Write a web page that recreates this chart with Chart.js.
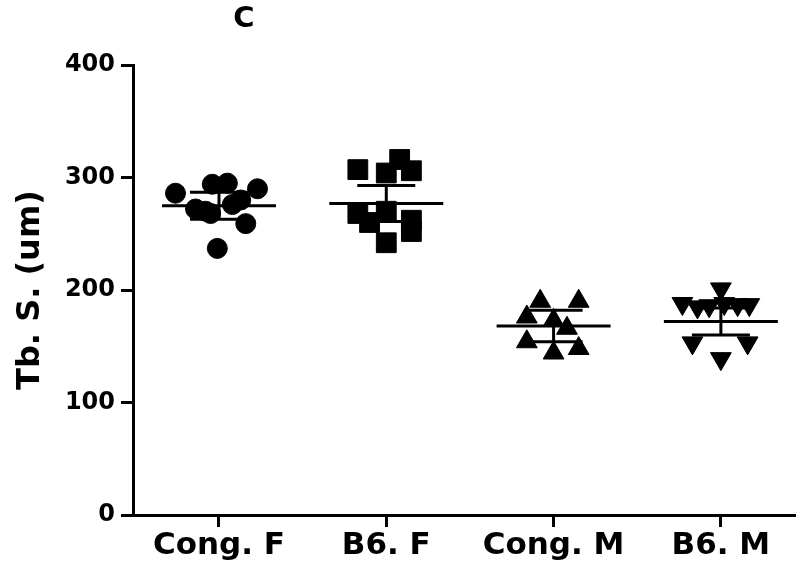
<!DOCTYPE html>
<html>
<head>
<meta charset="utf-8">
<script src="https://cdn.jsdelivr.net/npm/chart.js"></script>
<style>
  html, body { margin: 0; padding: 0; background: #fff; overflow: hidden; }
  #wrap { width: 796px; height: 574px; position: relative; }
  canvas { display: block; }
</style>
</head>
<body>
<div id="wrap"><canvas id="c"></canvas></div>
<script>
// --- data ---
const categories = ['Cong. F', 'B6. F', 'Cong. M', 'B6. M'];
const yTicks = [0, 100, 200, 300, 400];

const congF = [237, 286, 294, 295, 290, 259, 272, 268, 276, 280, 270];
const congFJitter = [-0.01, -0.26, -0.04, 0.05, 0.23, 0.16, -0.14, -0.05, 0.08, 0.13, -0.08];

const b6F = [307, 316, 306, 304, 268, 242, 262, 252, 270, 260];
const b6FJitter = [-0.17, 0.08, 0.15, 0.0, -0.17, 0.0, 0.15, 0.15, 0.0, -0.1];

const congM = [190, 190, 176, 173, 166, 154, 144, 148];
const congMJitter = [-0.08, 0.15, -0.16, 0.0, 0.08, -0.16, 0.0, 0.15];

const b6M = [201, 188, 185, 186, 188, 187, 187, 153, 153, 139];
const b6MJitter = [0.0, -0.23, -0.14, -0.07, 0.02, 0.10, 0.17, -0.17, 0.16, 0.0];

// mean and error bar half-length per group
const means = [275, 277, 168, 172];
const errs = [12, 16, 14, 12];

const toPoints = (vals, jit, idx) => vals.map((v, i) => ({ x: idx + jit[i], y: v }));

const FONT = "'DejaVu Sans', Arial, sans-serif";

// mean line + error bars
const meanBars = {
  id: 'meanBars',
  afterDatasetsDraw(chart) {
    const { ctx, scales: { x, y } } = chart;
    ctx.save();
    ctx.strokeStyle = '#000';
    ctx.lineWidth = 3;
    means.forEach((m, i) => {
      const cx = x.getPixelForValue(i);
      const ym = y.getPixelForValue(m);
      const yt = y.getPixelForValue(m + errs[i]);
      const yb = y.getPixelForValue(m - errs[i]);
      ctx.beginPath();
      ctx.moveTo(cx - 57, ym); ctx.lineTo(cx + 57, ym);
      ctx.moveTo(cx - 29, yt); ctx.lineTo(cx + 29, yt);
      ctx.moveTo(cx - 29, yb); ctx.lineTo(cx + 29, yb);
      ctx.moveTo(cx, yt); ctx.lineTo(cx, yb);
      ctx.stroke();
    });
    ctx.restore();
  }
};

// panel letter
const panelLetter = {
  id: 'panelLetter',
  afterDraw(chart) {
    const { ctx } = chart;
    ctx.save();
    ctx.fillStyle = '#000';
    ctx.font = `bold 29px ${FONT}`;
    ctx.textAlign = 'center';
    ctx.textBaseline = 'middle';
    ctx.fillText('C', 244, 19);
    ctx.restore();
  }
};

const pointSet = (data, style, radius, rotation) => ({
  data,
  pointStyle: style,
  pointRadius: radius,
  pointHoverRadius: radius,
  rotation: rotation || 0,
  backgroundColor: '#000',
  borderColor: '#000',
  borderWidth: 1
});

new Chart(document.getElementById('c'), {
  type: 'scatter',
  data: {
    datasets: [
      pointSet(toPoints(congF, congFJitter, 0), 'circle', 10),
      pointSet(toPoints(b6F, b6FJitter, 1), 'rect', 14),
      pointSet(toPoints(congM, congMJitter, 2), 'triangle', 12),
      pointSet(toPoints(b6M, b6MJitter, 3), 'triangle', 12, 180)
    ]
  },
  options: {
    responsive: true,
    maintainAspectRatio: false,
    animation: false,
    layout: { autoPadding: false, padding: { top: 65, left: 0, right: 0, bottom: 0 } },
    plugins: {
      legend: { display: false },
      tooltip: { enabled: false }
    },
    scales: {
      x: {
        type: 'linear',
        min: -0.514,
        max: 3.449,
        afterBuildTicks: (s) => { s.ticks = categories.map((c, i) => ({ value: i })); },
        afterFit: (s) => { s.height = 59; s.paddingLeft = 0; s.paddingRight = 0; },
        grid: { drawOnChartArea: false, drawTicks: true, tickLength: 12, lineWidth: 3, color: '#000' },
        border: { display: true, width: 3, color: '#000' },
        ticks: {
          color: '#000',
          padding: 0,
          maxRotation: 0,
          font: { family: FONT, size: 31, weight: 'bold' },
          callback: (v) => categories[v]
        }
      },
      y: {
        min: 0,
        max: 400,
        afterBuildTicks: (s) => { s.ticks = yTicks.map(v => ({ value: v })); },
        afterFit: (s) => { s.width = 133; },
        grid: { drawOnChartArea: false, drawTicks: true, tickLength: 12, lineWidth: 3, color: '#000' },
        border: { display: true, width: 3, color: '#000' },
        ticks: {
          color: '#000',
          padding: 6,
          font: { family: FONT, size: 24, weight: 'bold' }
        },
        title: {
          display: true,
          text: 'Tb. S. (um)',
          color: '#000',
          padding: { top: 11, bottom: 0 },
          font: { family: FONT, size: 32, weight: 'bold' }
        }
      }
    }
  },
  plugins: [meanBars, panelLetter]
});
</script>
</body>
</html>
